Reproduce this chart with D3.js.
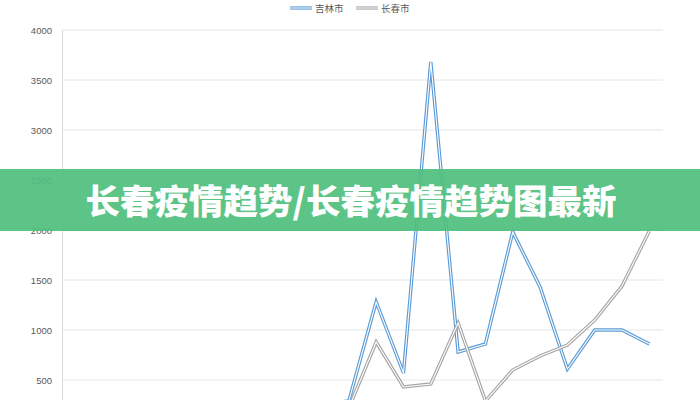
<!DOCTYPE html>
<html><head><meta charset="utf-8">
<script src="https://cdn.jsdelivr.net/npm/d3@7/dist/d3.min.js"></script>
<style>body{margin:0;background:#fff;}svg{display:block;}</style>
</head><body>
<svg id="c" width="700" height="400"></svg>
<script>
const categories = d3.range(1, 23).map(d => "D" + d);
const jilin =    [120,150,130,160,180,170,200,220,240,260,290,1280,570,3680,780,860,1980,1430,610,1000,1000,860];
const changchun = [80,100,90,110,120,130,150,160,180,200,220,880,430,460,1070,290,600,740,850,1100,1440,1990];
const yTicks = [500,1000,1500,2000,2500,3000,3500,4000];
const seriesNames = ["吉林市","长春市"];
const colors = ["#5b9bd5","#a5a5a5"];
const title = "长春疫情趋势/长春疫情趋势图最新";

const svg = d3.select("#c");
const x = d3.scaleBand().domain(categories).range([62, 663]);
const y = d3.scaleLinear().domain([0, 4000]).range([430, 30]);

// gridlines
svg.append("g").selectAll("line").data(yTicks).join("line")
  .attr("x1", 62).attr("x2", 663)
  .attr("y1", d => y(d)).attr("y2", d => y(d))
  .attr("stroke", "#e6e6e6").attr("stroke-width", 1);

// y axis
const ya = svg.append("g").attr("transform", "translate(62,0)")
  .call(d3.axisLeft(y).tickValues(yTicks).tickFormat(d3.format("d")).tickSize(0).tickPadding(10));
ya.select(".domain").attr("stroke", "#d9d9d9").attr("d", "M0.5,30V400");
ya.selectAll("text").attr("fill", "#595959").style("font-family", "'Liberation Sans', Arial, sans-serif").style("font-size", "9.5px");

const line = d3.line().x((d, i) => x(categories[i]) + x.bandwidth() / 2).y(d => y(d));
[jilin, changchun].forEach((s, k) => {
  svg.append("path").attr("d", line(s)).attr("fill", "none").attr("stroke", colors[k]).attr("stroke-width", 3.4).attr("stroke-linejoin", "miter");
  svg.append("path").attr("d", line(s)).attr("fill", "none").attr("stroke", "#fff").attr("stroke-width", 1.1).attr("stroke-linejoin", "miter");
});

// legend
const lg = svg.append("g");
const lx = [290, 356];
seriesNames.forEach((n, k) => {
  lg.append("line").attr("x1", lx[k]).attr("x2", lx[k] + 22).attr("y1", 8).attr("y2", 8).attr("stroke", colors[k]).attr("stroke-width", 3.2);
  lg.append("line").attr("x1", lx[k]).attr("x2", lx[k] + 22).attr("y1", 8).attr("y2", 8).attr("stroke", "#fff").attr("stroke-width", 1);
  lg.append("text").attr("x", lx[k] + 25).attr("y", 12).text(n).attr("fill", "#595959")
    .style("font-family", "'Noto Sans CJK SC', sans-serif").style("font-size", "9.5px");
});

// banner
svg.append("rect").attr("x", 0).attr("y", 169).attr("width", 700).attr("height", 62).attr("fill", "#4fbf7e").attr("opacity", 0.92);
svg.append("text").attr("x", 351).attr("y", 214).attr("text-anchor", "middle").text(title)
  .attr("fill", "#fff").style("font-family", "'Noto Sans CJK SC', sans-serif").style("font-weight", "900").style("font-size", "34.5px");
</script>
</body></html>
